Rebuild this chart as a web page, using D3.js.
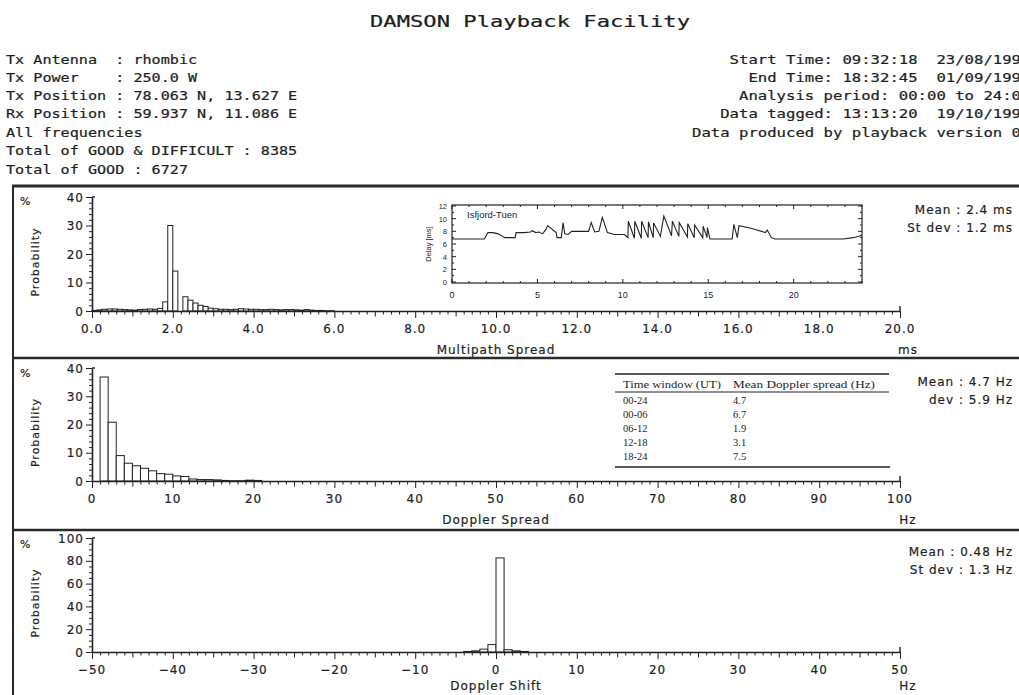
<!DOCTYPE html>
<html><head><meta charset="utf-8">
<script src="https://cdn.jsdelivr.net/npm/d3@7"></script>
<style>
html,body{margin:0;padding:0;background:#fff;overflow:hidden}
svg{display:block}
text{font-family:"DejaVu Sans",sans-serif;fill:#1e1e1e;stroke:#1e1e1e;stroke-width:0.2;letter-spacing:1px}
.mono{font-family:"DejaVu Sans Mono",monospace;letter-spacing:0}
.tbl{font-family:"Liberation Serif",serif;letter-spacing:0;stroke:none}
.ins{font-family:"Liberation Sans",sans-serif;letter-spacing:0;stroke:none}
</style></head><body>
<svg id="c" width="1019" height="695"></svg>
<script>
// ---- Multipath spread histogram (0.125 ms bins, % of GOOD soundings)
const multipathStart = [0.000,0.125,0.250,0.375,0.500,0.625,0.750,0.875,1.000,1.125,1.250,1.375,1.500,1.625,1.750,1.875,
  2.000,2.125,2.250,2.375,2.500,2.625,2.750,2.875,3.000,3.125,3.250,3.375,3.500,3.625,3.750,3.875,
  4.000,4.125,4.250,4.375,4.500,4.625,4.750,4.875,5.000,5.125,5.250,5.375,5.500,5.625,5.750,5.875];
const multipathPct = [0.2,0.4,0.6,0.7,0.7,0.6,0.5,0.4,0.3,0.5,0.6,0.7,0.6,0.9,3.2,30.0,
  14.0,0.0,5.0,3.8,2.8,2.0,1.6,1.0,0.8,0.6,0.6,0.5,0.6,0.8,0.7,0.6,
  0.6,0.5,0.5,0.6,0.5,0.4,0.5,0.5,0.4,0.3,0.5,0.3,0.2,0.2,0.1,0.1];

// ---- Doppler spread histogram (1 Hz bins)
const spreadStart = [1,2,3,4,5,6,7,8,9,10,11,12,13,14,15,16,17,18,19,20];
const spreadPct = [36.8,20.8,9.0,6.3,5.4,4.5,3.6,2.6,2.4,1.8,1.6,0.7,0.5,0.5,0.4,0.2,0.1,0.1,0.3,0.2];

// ---- Doppler shift histogram (1 Hz bins)
const shiftStart = [-4,-3,-2,-1,0,1,2,3];
const shiftPct = [0.5,1.0,2.5,6.5,82.5,2.0,1.0,0.5];

// ---- Isfjord-Tuen delay over the day (hours UT, ms)
const delayHour = [0,0.5,1.0,1.5,1.9,2.1,2.4,2.7,3.1,3.4,3.7,3.75,4.2,4.6,4.7,4.9,5.1,5.3,5.5,5.6,6.1,6.15,6.4,6.5,6.6,6.8,7.0,7.5,8.0,8.15,8.35,8.6,8.8,9.1,9.5,10.1,
  10.3,10.32,10.68,10.7,11.08,11.1,11.48,11.5,11.78,11.8,12.2,12.4,12.85,12.9,13.28,13.3,13.78,13.8,14.18,14.2,14.68,14.7,14.93,14.95,15.1,
  15.5,16.0,16.4,16.5,16.7,16.8,17.5,18.35,18.45,18.7,18.9,19.5,20.0,20.5,21.0,21.5,22.0,22.5,22.9,23.5,23.9,24.0];
const delayMs = [6.8,6.8,6.8,6.8,6.8,7.8,7.8,7.6,7.0,7.0,7.0,7.8,7.8,7.9,8.1,7.8,7.9,7.6,8.3,8.9,7.8,7.0,7.0,9.4,7.6,7.5,8.0,8.0,8.0,9.4,7.9,8.0,10.2,7.8,7.5,7.5,
  7.0,9.6,6.9,9.6,6.9,9.6,7.0,9.5,7.0,9.3,7.2,10.4,7.3,9.6,7.2,9.4,7.1,9.2,7.0,9.0,7.0,8.8,7.0,8.6,6.8,
  6.8,6.8,6.8,9.1,7.0,8.9,8.5,7.8,8.2,7.0,6.8,6.8,6.8,6.8,6.8,6.8,6.8,6.8,6.8,7.0,7.3,7.4];

// ---- Mean Doppler spread per time window
const timeWindows = ["00-24","00-06","06-12","12-18","18-24"];
const meanSpreadHz = [4.7,6.7,1.9,3.1,7.5];

// ---- Header text
const runLines = ["Tx Antenna  : rhombic","Tx Power    : 250.0 W","Tx Position : 78.063 N, 13.627 E",
  "Rx Position : 59.937 N, 11.086 E","All frequencies","Total of GOOD & DIFFICULT : 8385","Total of GOOD : 6727"];
const timeLines = ["Start Time: 09:32:18  23/08/199","End Time: 18:32:45  01/09/199","Analysis period: 00:00 to 24:0",
  "Data tagged: 13:13:20  19/10/199","Data produced by playback version 0"];

const svg = d3.select("#c");
svg.append("rect").attr("width",1019).attr("height",695).attr("fill","#fff");

function txt(g, x, y, s, o = {}) {
  const t = g.append("text").attr("x", x).attr("y", y).text(s)
    .attr("font-size", o.size || 12).attr("text-anchor", o.anchor || "start")
    .attr("xml:space", "preserve").style("white-space", "pre");
  if (o.w) t.attr("textLength", o.w).attr("lengthAdjust", "spacingAndGlyphs");
  if (o.cls) t.attr("class", o.cls);
  return t;
}

// ---- Title and header (fixed-pitch text)
txt(svg, 370, 27, "DAMSON Playback Facility", {size: 15, w: 320, cls: "mono"});
const hdrY = [64, 82, 100, 118, 137, 155, 174];
runLines.forEach((s, i) => txt(svg, 6, hdrY[i], s, {size: 12.5, w: s.length * 9.1, cls: "mono"}));
timeLines.forEach((s, i) => txt(svg, 1021, hdrY[i], s, {size: 12.5, anchor: "end", w: s.length * 9.4, cls: "mono"}));

// ---- Panel frames
const frame = svg.append("g").attr("stroke", "#2a2a2a").attr("fill", "none");
frame.append("line").attr("x1", 12).attr("x2", 1019).attr("y1", 186).attr("y2", 186).attr("stroke-width", 3);
frame.append("line").attr("x1", 12).attr("x2", 1019).attr("y1", 358).attr("y2", 358).attr("stroke-width", 2.5);
frame.append("line").attr("x1", 12).attr("x2", 1019).attr("y1", 530).attr("y2", 530).attr("stroke-width", 2.5);
frame.append("line").attr("x1", 13).attr("x2", 13).attr("y1", 185).attr("y2", 695).attr("stroke-width", 2);

const X0 = 92, X1 = 900;
const panels = [
  {yZero: 311, yTop: 197, xDom: [0, 20], yMax: 40, yStep: 10, yMinor: 2, xMinor: 0.2, xMid: 1, xLab: 2,
   fmt: d3.format(".1f"), title: "Multipath Spread", unit: "ms", titleY: 354, stats: ["Mean : 2.4 ms", "St dev : 1.2 ms"],
   statY: [214, 232], pctY: 205, starts: multipathStart, vals: multipathPct, bw: 0.125},
  {yZero: 481, yTop: 368, xDom: [0, 100], yMax: 40, yStep: 10, yMinor: 2, xMinor: 1, xMid: 5, xLab: 10,
   fmt: d3.format("d"), title: "Doppler Spread", unit: "Hz", titleY: 524, stats: ["Mean : 4.7 Hz", "dev : 5.9 Hz"],
   statY: [386, 404], pctY: 377, starts: spreadStart, vals: spreadPct, bw: 1},
  {yZero: 652, yTop: 538, xDom: [-50, 50], yMax: 100, yStep: 20, yMinor: 5, xMinor: 1, xMid: 5, xLab: 10,
   fmt: d3.format("d"), title: "Doppler Shift", unit: "Hz", titleY: 690, stats: ["Mean : 0.48 Hz", "St dev : 1.3 Hz"],
   statY: [556, 574], pctY: 548, starts: shiftStart, vals: shiftPct, bw: 1}
];

panels.forEach(p => {
  const g = svg.append("g");
  const x = d3.scaleLinear().domain(p.xDom).range([X0, X1]);
  const y = d3.scaleLinear().domain([0, p.yMax]).range([p.yZero, p.yTop]);

  // bars
  g.append("g").selectAll("rect").data(p.starts).join("rect")
    .attr("x", d => x(d)).attr("width", d => x(d + p.bw) - x(d))
    .attr("y", (d, i) => y(p.vals[i])).attr("height", (d, i) => y(0) - y(p.vals[i]))
    .attr("fill", "#fff").attr("stroke", "#222").attr("stroke-width", 1);

  // x axis ticks: minor, mid and labelled lengths
  const near = (v, s) => Math.abs(v / s - Math.round(v / s)) < 1e-6;
  const n = Math.round((p.xDom[1] - p.xDom[0]) / p.xMinor);
  const xt = d3.range(n + 1).map(i => p.xDom[0] + i * p.xMinor);
  const xa = g.append("g").attr("transform", `translate(0,${p.yZero})`)
    .call(d3.axisBottom(x).tickValues(xt).tickFormat("").tickSizeOuter(0));
  xa.selectAll(".tick line").attr("y2", d => near(d, p.xLab) ? 7 : near(d, p.xMid) ? 5.5 : 3.5);
  xa.select(".domain").attr("stroke-width", 1.6);
  xa.selectAll("line,path").attr("stroke", "#222");
  g.append("line").attr("x1", X1).attr("x2", X1).attr("y1", p.yZero).attr("y2", p.yZero - 5)
    .attr("stroke", "#222").attr("stroke-width", 1.4);
  const labs = xt.filter(d => near(d, p.xLab));
  g.append("g").selectAll("text").data(labs).join("text")
    .attr("x", d => x(d)).attr("y", p.yZero + 22).attr("text-anchor", "middle")
    .attr("font-size", 12).text(d => p.fmt(d));

  // y axis
  const ya = g.append("g").attr("transform", `translate(${X0},0)`)
    .call(d3.axisLeft(y).tickValues(d3.range(0, p.yMax + 0.1, p.yMinor)).tickFormat("").tickSize(3).tickSizeOuter(0));
  ya.selectAll(".tick line").attr("x2", d => near(d, p.yStep) ? -6 : -3);
  ya.select(".domain").attr("stroke-width", 1.6);
  ya.selectAll("line,path").attr("stroke", "#222");
  g.append("line").attr("x1", X0).attr("x2", X0 + 3).attr("y1", p.yTop).attr("y2", p.yTop)
    .attr("stroke", "#222").attr("stroke-width", 1.4);
  g.append("g").selectAll("text").data(d3.range(0, p.yMax + 0.1, p.yStep)).join("text")
    .attr("x", X0 - 8).attr("y", d => y(d) + 4.5).attr("text-anchor", "end")
    .attr("font-size", 12).text(d => d);

  // labels
  txt(g, 20, p.pctY, "%", {size: 11});
  txt(g, 0, 0, "Probability", {size: 11, anchor: "middle"})
    .attr("transform", `translate(39,${(p.yZero + p.yTop) / 2 + 8}) rotate(-90)`);
  txt(g, (X0 + X1) / 2, p.titleY, p.title, {size: 12, anchor: "middle"});
  txt(g, 908, p.titleY, p.unit, {size: 12, anchor: "middle"});
  p.stats.forEach((s, i) => txt(g, 1013, p.statY[i], s, {size: 12, anchor: "end"}));
});

// ---- Inset: daily delay trace
const ins = svg.append("g");
const ix = d3.scaleLinear().domain([0, 24]).range([452, 862]);
const iy = d3.scaleLinear().domain([0, 12]).range([282, 206]);
ins.append("rect").attr("x", 452).attr("y", 205).attr("width", 410).attr("height", 78)
  .attr("fill", "#fff").attr("stroke", "#222").attr("stroke-width", 1.2);
d3.range(0, 25).forEach(h => {
  const L = h % 5 === 0 ? 4 : 2;
  ins.append("line").attr("x1", ix(h)).attr("x2", ix(h)).attr("y1", 283).attr("y2", 283 - L).attr("stroke", "#222");
  ins.append("line").attr("x1", ix(h)).attr("x2", ix(h)).attr("y1", 205).attr("y2", 205 + L).attr("stroke", "#222");
});
d3.range(0, 13).forEach(v => {
  const L = v % 2 === 0 ? 4 : 2;
  ins.append("line").attr("x1", 452).attr("x2", 452 + L).attr("y1", iy(v)).attr("y2", iy(v)).attr("stroke", "#222");
  ins.append("line").attr("x1", 862).attr("x2", 862 - L).attr("y1", iy(v)).attr("y2", iy(v)).attr("stroke", "#222");
});
ins.append("g").selectAll("text").data([0, 5, 10, 15, 20]).join("text").attr("class", "ins")
  .attr("x", d => ix(d)).attr("y", 298).attr("text-anchor", "middle").attr("font-size", 9).text(d => d);
ins.append("g").selectAll("text").data([0, 2, 4, 6, 8, 10, 12]).join("text").attr("class", "ins")
  .attr("x", 447).attr("y", d => iy(d) + 3).attr("text-anchor", "end").attr("font-size", 7.5).text(d => d);
txt(ins, 0, 0, "Delay [ms]", {size: 7.5, anchor: "middle", cls: "ins"})
  .attr("transform", "translate(431,244) rotate(-90)");
txt(ins, 467, 218, "Isfjord-Tuen", {size: 9.5, cls: "ins"});
ins.append("path").datum(delayHour.map((h, i) => [h, delayMs[i]]))
  .attr("d", d3.line().x(d => ix(d[0])).y(d => iy(d[1])))
  .attr("fill", "none").attr("stroke", "#222").attr("stroke-width", 1.1);

// ---- Table: mean Doppler spread per time window
const tb = svg.append("g");
tb.append("line").attr("x1", 615).attr("x2", 889).attr("y1", 374).attr("y2", 374).attr("stroke", "#222").attr("stroke-width", 1.6);
tb.append("line").attr("x1", 615).attr("x2", 889).attr("y1", 392).attr("y2", 392).attr("stroke", "#222").attr("stroke-width", 1);
tb.append("line").attr("x1", 615).attr("x2", 890).attr("y1", 467).attr("y2", 467).attr("stroke", "#222").attr("stroke-width", 1.6);
txt(tb, 623, 388, "Time window (UT)", {size: 10.5, cls: "tbl", w: 98});
txt(tb, 733, 388, "Mean Doppler spread (Hz)", {size: 10.5, cls: "tbl", w: 142});
timeWindows.forEach((w, i) => {
  const yy = 404 + i * 14;
  txt(tb, 623, yy, w, {size: 10.5, cls: "tbl"});
  txt(tb, 733, yy, d3.format(".1f")(meanSpreadHz[i]), {size: 10.5, cls: "tbl"});
});
</script>
</body></html>
